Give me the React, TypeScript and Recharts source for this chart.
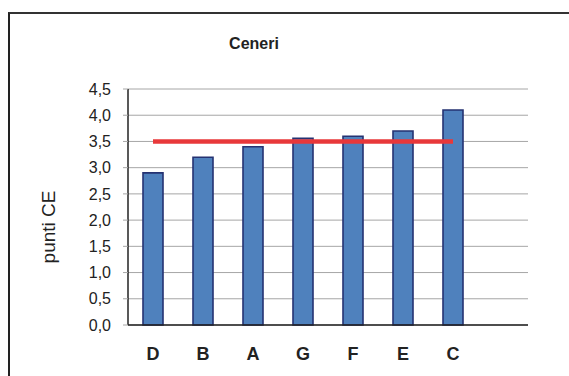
import React from 'react';
import {
    ComposedChart,
    Bar,
    Line,
    XAxis,
    YAxis,
    CartesianGrid,
} from 'recharts';

// ============================================================================
// DATA
// ============================================================================

const categories = ['D', 'B', 'A', 'G', 'F', 'E', 'C', ''];
const puntiCE = [2.9, 3.2, 3.4, 3.56, 3.6, 3.7, 4.1, null];
const soglia = [3.5, 3.5, 3.5, 3.5, 3.5, 3.5, 3.5, null];
const yTicks = [0, 0.5, 1, 1.5, 2, 2.5, 3, 3.5, 4, 4.5];
const slotTicks = [0, 1, 2, 3, 4, 5, 6, 7, 8];

const data = categories.map((name, i) => ({
    name,
    valore: puntiCE[i],
    soglia: soglia[i],
}));

const FONT = '"Liberation Sans", Arial, Helvetica, sans-serif';
const fmt = (v: number) => v.toFixed(1).replace('.', ',');

// axis 0 sits right under the plot (baseline + boundary ticks),
// axis 1 carries the category labels below it
const SLOT_AXIS = 0;
const CAT_AXIS = 1;

export default function App() {
    return (
        <div
            style={{
                position: 'fixed',
                left: 0,
                top: 0,
                width: 569,
                height: 376,
                background: '#fff',
                overflow: 'hidden',
                fontFamily: FONT,
            }}
        >
            {/* frame around the chart */}
            <div
                style={{
                    position: 'absolute',
                    left: 8,
                    top: 12,
                    width: 640,
                    height: 420,
                    borderLeft: '2px solid #222',
                    borderTop: '2px solid #333',
                }}
            />
            <div style={{ position: 'absolute', left: 0, top: 0 }}>
                <ComposedChart
                    width={569}
                    height={376}
                    data={data}
                    margin={{ top: 89, right: 41, bottom: 20, left: 0 }}
                >
                    <CartesianGrid xAxisId={CAT_AXIS} vertical={false} stroke="#a6a6a6" strokeWidth={1} />
                    <XAxis
                        xAxisId={SLOT_AXIS}
                        type="number"
                        domain={[0, 8]}
                        ticks={slotTicks}
                        height={1}
                        tick={false}
                        tickSize={5}
                        tickLine={{ stroke: '#a6a6a6' }}
                        axisLine={{ stroke: '#222', strokeWidth: 1.5 }}
                    />
                    <XAxis
                        xAxisId={CAT_AXIS}
                        dataKey="name"
                        height={30}
                        tickSize={0}
                        tickMargin={21}
                        tickLine={false}
                        axisLine={false}
                        tick={{ fill: '#222', fontSize: 18, fontWeight: 'bold', fontFamily: FONT }}
                        interval={0}
                    />
                    <YAxis
                        domain={[0, 4.5]}
                        ticks={yTicks}
                        width={128}
                        tickSize={5}
                        tickMargin={12}
                        tickFormatter={fmt}
                        tickLine={{ stroke: '#a6a6a6' }}
                        axisLine={{ stroke: '#222', strokeWidth: 1.5 }}
                        tick={{ fill: '#222', fontSize: 16, fontFamily: FONT }}
                        interval={0}
                    />
                    <YAxis
                        yAxisId="right"
                        orientation="right"
                        domain={[0, 4.5]}
                        width={0}
                        tick={false}
                        tickLine={false}
                        axisLine={{ stroke: '#a6a6a6' }}
                    />
                    <Bar
                        xAxisId={CAT_AXIS}
                        dataKey="valore"
                        barSize={20}
                        fill="#4f81bd"
                        stroke="#253272"
                        strokeWidth={1.6}
                        isAnimationActive={false}
                    />
                    <Line
                        xAxisId={CAT_AXIS}
                        dataKey="soglia"
                        stroke="#e8383a"
                        strokeWidth={4.5}
                        dot={false}
                        activeDot={false}
                        isAnimationActive={false}
                    />
                </ComposedChart>
            </div>
            <svg
                width={569}
                height={376}
                style={{ position: 'absolute', left: 0, top: 0, pointerEvents: 'none' }}
            >
                <text
                    x={254}
                    y={49}
                    textAnchor="middle"
                    fontFamily={FONT}
                    fontSize={16}
                    fontWeight="bold"
                    fill="#222"
                >
                    Ceneri
                </text>
                <text
                    transform="translate(55,227) rotate(-90)"
                    textAnchor="middle"
                    fontFamily={FONT}
                    fontSize={19}
                    fill="#222"
                >
                    punti CE
                </text>
            </svg>
        </div>
    );
}
